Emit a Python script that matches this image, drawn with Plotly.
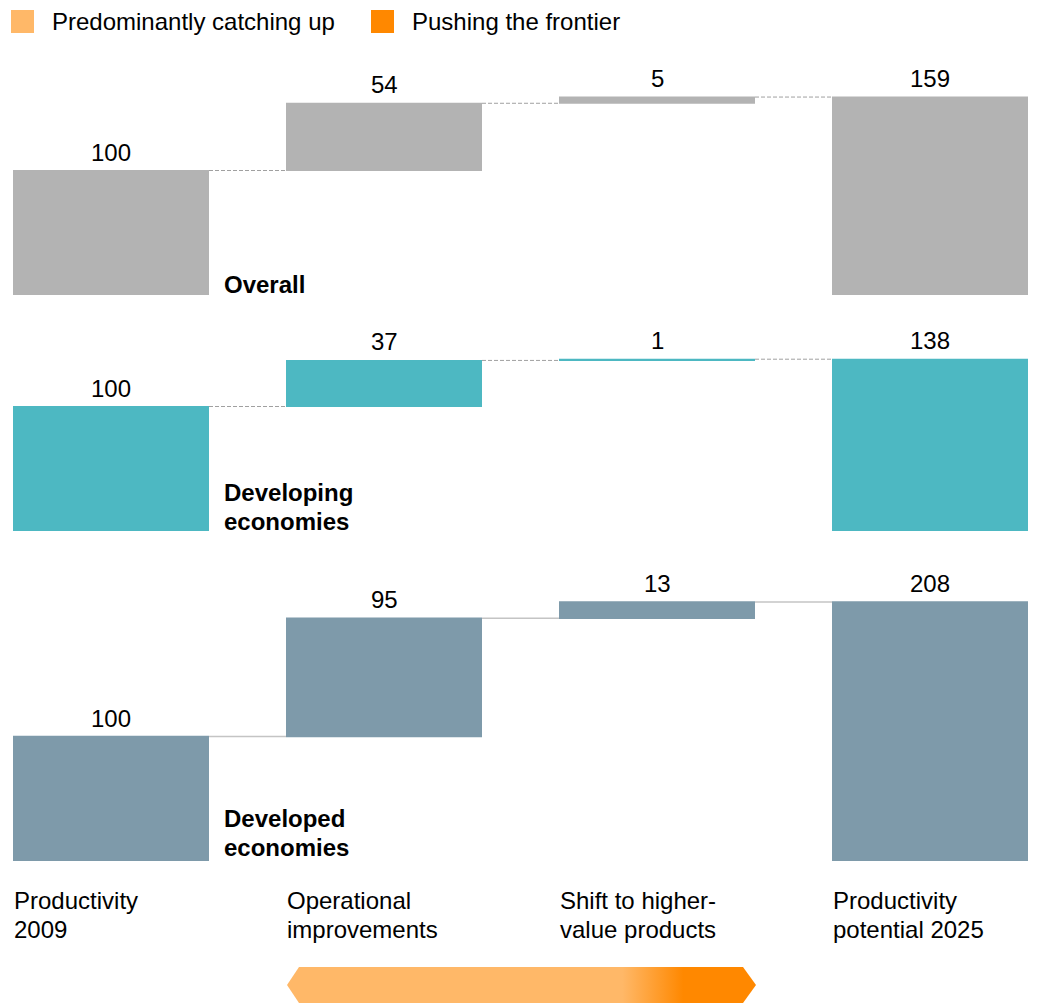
import plotly.graph_objects as go

OFF = 8  # page body margin
W, H = 1038 - OFF, 1003 - OFF

categories = ["Productivity<br>2009", "Operational<br>improvements",
              "Shift to higher-<br>value products", "Productivity<br>potential 2025"]
measures = ["absolute", "relative", "relative", "total"]

overall = [100, 54, 5, 159]
developing = [100, 37, 1, 138]
developed = [100, 95, 13, 208]

panel_names = ["Overall", "Developing<br>economies", "Developed<br>economies"]
panel_colors = ["#B3B3B3", "#4DB8C2", "#7E9AAA"]
connector_styles = [dict(color="#A0A0A0", width=1, dash="4px,2px"),
                    dict(color="#A0A0A0", width=1, dash="4px,2px"),
                    dict(color="#C4C4C4", width=1.5, dash="solid")]

legend_labels = ["Predominantly catching up", "Pushing the frontier"]
legend_colors = ["#FFB868", "#FF8800"]

FONT = "Liberation Sans, Arial, sans-serif"
FS = 24
LINE = 28.5
PXU = 1.245  # pixels per unit
# panel (base pixel, top pixel) in reference coordinates
panels_px = [(295, 50), (531, 318), (861, 560)]
name_shift = [10.5, 10, 14]

def px(p):
    return p - OFF

def py(p):
    return 1 - (p - OFF) / H

# x axis: centers at 111 and 930 reference pixels
x_c0, x_c3 = px(111), px(930)
step = (x_c3 - x_c0) / 3
x_range = [-x_c0 / step, 3 + (W - x_c3) / step]
bar_w = 196 / step

fig = go.Figure()
datasets = [overall, developing, developed]
annotations = []
xs = list(range(len(categories)))
for i, (vals, col, conn, (base, top)) in enumerate(zip(datasets, panel_colors, connector_styles, panels_px)):
    n = i + 1
    xa = "x" if n == 1 else f"x{n}"
    ya = "y" if n == 1 else f"y{n}"
    fig.add_trace(go.Waterfall(
        x=xs, y=vals, measure=measures, width=[bar_w] * 4,
        increasing=dict(marker=dict(color=col)),
        decreasing=dict(marker=dict(color=col)),
        totals=dict(marker=dict(color=col)),
        connector=dict(mode="between", line=conn),
        textposition="none", hoverinfo="skip", showlegend=False,
        xaxis=xa, yaxis=ya,
    ))
    rng = (base - top) / PXU
    fig.layout[f"xaxis{'' if n == 1 else n}"] = dict(range=x_range, domain=[0, 1], visible=False,
                                                      anchor=ya, fixedrange=True)
    fig.layout[f"yaxis{'' if n == 1 else n}"] = dict(range=[0, rng], domain=[py(base), py(top)],
                                                      visible=False, anchor=xa, fixedrange=True)
    # value labels
    cum = 0
    for j, (v, m) in enumerate(zip(vals, measures)):
        if m == "absolute":
            cum = v
        elif m == "relative":
            cum += v
        else:
            cum = v
        annotations.append(dict(x=j, y=cum, xref=xa, yref=ya, text=str(v), showarrow=False,
                                yanchor="bottom", yshift=3,
                                font=dict(family=FONT, size=FS, color="#000")))
    # panel name, one annotation per line
    lines = panel_names[i].split("<br>")
    for k, ln in enumerate(lines):
        annotations.append(dict(x=bar_w / 2, y=0, xref=xa, yref=ya, text=f"<b>{ln}</b>",
                                showarrow=False, xanchor="left", yanchor="middle", xshift=13,
                                yshift=name_shift[i] + (len(lines) - 1 - k) * LINE,
                                font=dict(family=FONT, size=FS, color="#000")))

# category labels under bottom panel, one annotation per line
for j, c in enumerate(categories):
    for k, ln in enumerate(c.split("<br>")):
        annotations.append(dict(x=j - bar_w / 2, y=0, xref="x3", yref="y3", text=ln, showarrow=False,
                                xanchor="left", yanchor="middle", yshift=-39.5 - k * 29, xshift=-1,
                                font=dict(family=FONT, size=FS, color="#000")))

# legend
leg_x = [11, 371]
shapes = []
for lx, lab, col in zip(leg_x, legend_labels, legend_colors):
    shapes.append(dict(type="rect", xref="paper", yref="paper", x0=px(lx) / W, x1=px(lx + 23) / W,
                       y0=py(33), y1=py(10), fillcolor=col, line=dict(width=0)))
    annotations.append(dict(x=px(lx + 39) / W, y=py(21.5), xref="paper", yref="paper", text=lab,
                            showarrow=False, xanchor="left", yanchor="middle",
                            font=dict(family=FONT, size=FS, color="#000")))

# bottom arrow with gradient
ax_x = [px(v) for v in [287, 299, 743, 756, 743, 299, 287]]
ax_y = [px(v) for v in [985, 967, 967, 985, 1003, 1003, 985]]
fig.add_trace(go.Scatter(
    x=ax_x, y=ax_y, mode="lines", fill="toself", line=dict(width=0),
    fillgradient=dict(type="horizontal", start=px(287), stop=px(756),
                      colorscale=[[0, legend_colors[0]], [0.715, legend_colors[0]],
                                  [0.845, legend_colors[1]], [1, legend_colors[1]]]),
    hoverinfo="skip", showlegend=False, xaxis="x4", yaxis="y4"))
fig.layout["xaxis4"] = dict(range=[0, W], domain=[0, 1], visible=False, anchor="y4", fixedrange=True)
fig.layout["yaxis4"] = dict(range=[H, 0], domain=[0, 1], visible=False, anchor="x4", fixedrange=True)

fig.update_layout(
    width=W, height=H, margin=dict(l=0, r=0, t=0, b=0),
    paper_bgcolor="white", plot_bgcolor="rgba(0,0,0,0)",
    annotations=annotations, shapes=shapes, showlegend=False,
)
fig.write_html("out.html", config={"displayModeBar": False})
